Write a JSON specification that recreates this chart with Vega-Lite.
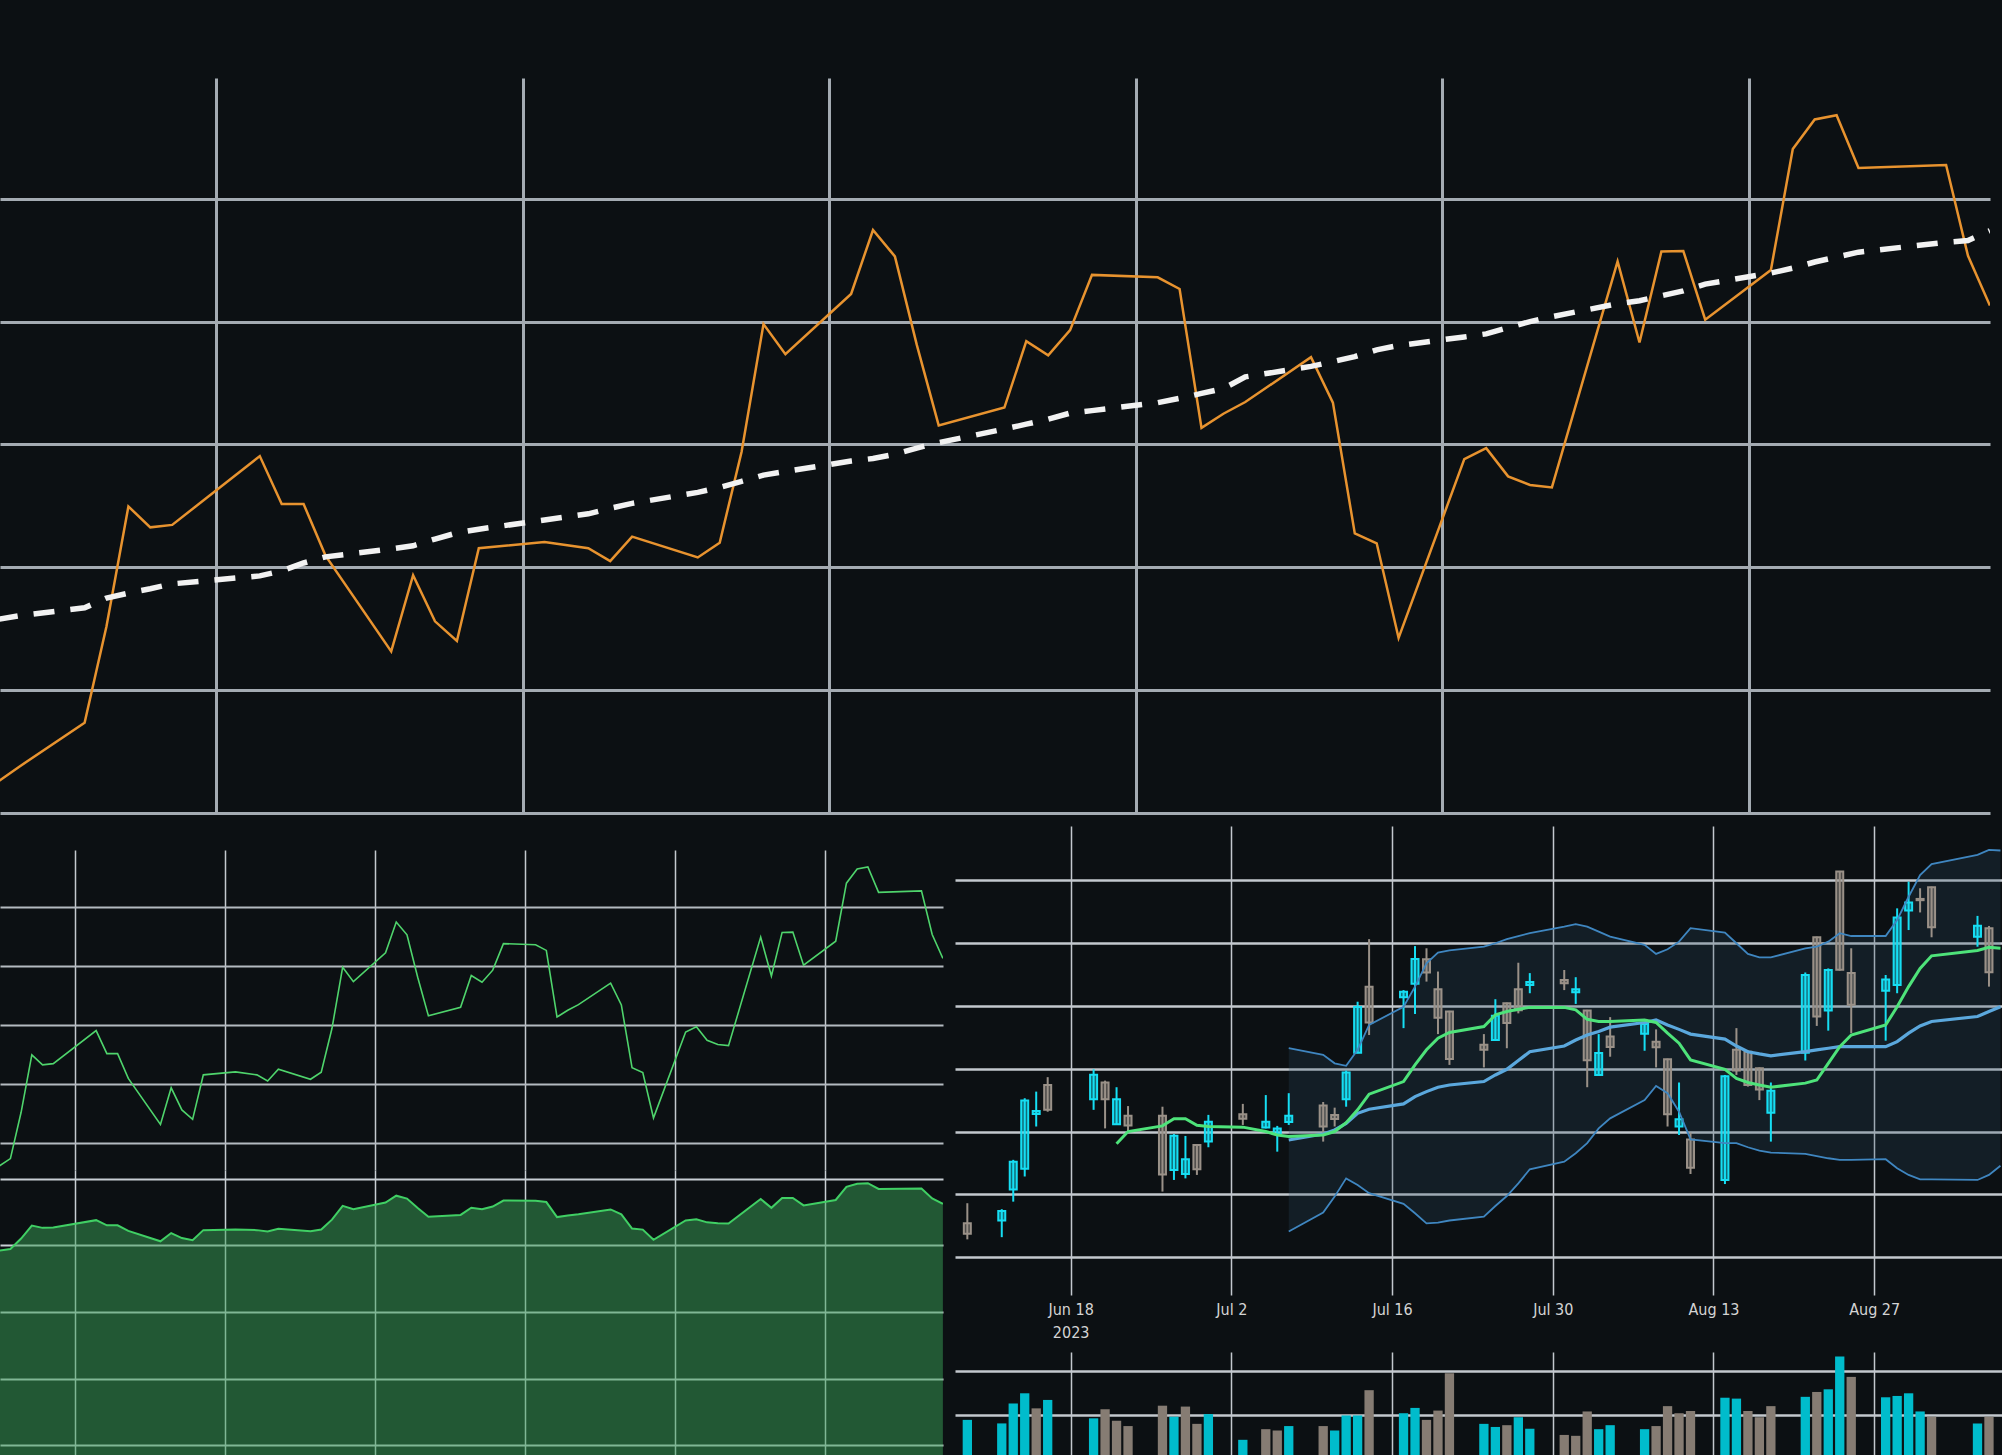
{
  "$schema": "https://vega.github.io/schema/vega-lite/v6.json",
  "description": "Stock dashboard: close with long moving average, close line and area, candlestick with bands and volume",
  "background": "#0c1013",
  "padding": {"top": 78, "left": 0, "right": 0, "bottom": 0},
  "spacing": 13,
  "config": {
    "view": {"stroke": null},
    "axis": {"labels": false, "ticks": false, "domain": false, "minExtent": 0, "maxExtent": 0}
  },
  "datasets": {
    "px": [
      {"date": "2023-06-08", "c": 28.5, "sma": 31.15},
      {"date": "2023-06-09", "o": 29.08, "h": 29.72, "l": 28.57, "c": 28.75, "v": 8.9, "vd": "u", "sma": 31.21},
      {"date": "2023-06-12", "o": 29.17, "h": 29.53, "l": 28.64, "c": 29.47, "v": 8.1, "vd": "u", "sma": 31.34},
      {"date": "2023-06-13", "o": 30.16, "h": 31.1, "l": 29.77, "c": 31.04, "v": 12.6, "vd": "u", "sma": 31.5},
      {"date": "2023-06-14", "o": 30.82, "h": 33.06, "l": 30.57, "c": 32.99, "v": 14.9, "vd": "u", "sma": 31.58},
      {"date": "2023-06-15", "o": 32.56, "h": 33.27, "l": 32.16, "c": 32.65, "v": 11.5, "vd": "d", "sma": 31.65},
      {"date": "2023-06-16", "o": 33.48, "h": 33.73, "l": 32.63, "c": 32.69, "v": 13.4, "vd": "u", "sma": 31.73},
      {"date": "2023-06-20", "o": 33.03, "h": 33.98, "l": 32.69, "c": 33.81, "v": 9.25, "vd": "u", "sma": 31.86},
      {"date": "2023-06-21", "o": 33.56, "h": 33.62, "l": 32.1, "c": 33.03, "v": 11.3, "vd": "d", "sma": 31.94},
      {"date": "2023-06-22", "o": 32.23, "h": 33.41, "l": 32.21, "c": 33.03, "v": 8.7, "vd": "d", "sma": 32.07, "ma": 31.61},
      {"date": "2023-06-23", "o": 32.5, "h": 32.81, "l": 32.0, "c": 32.19, "v": 7.5, "vd": "d", "sma": 32.17, "ma": 32.0},
      {"date": "2023-06-26", "o": 32.5, "h": 32.79, "l": 30.09, "c": 30.63, "v": 12.1, "vd": "d", "sma": 32.3, "ma": 32.18},
      {"date": "2023-06-27", "o": 30.78, "h": 31.92, "l": 30.46, "c": 31.87, "v": 9.6, "vd": "u", "sma": 32.35, "ma": 32.41},
      {"date": "2023-06-28", "o": 30.65, "h": 31.86, "l": 30.51, "c": 31.12, "v": 11.9, "vd": "d", "sma": 32.46, "ma": 32.41},
      {"date": "2023-06-29", "o": 31.57, "h": 31.6, "l": 30.62, "c": 30.8, "v": 8.0, "vd": "d", "sma": 32.56, "ma": 32.2},
      {"date": "2023-06-30", "o": 31.68, "h": 32.53, "l": 31.5, "c": 32.31, "v": 10.2, "vd": "u", "sma": 32.62, "ma": 32.16},
      {"date": "2023-07-03", "o": 32.55, "h": 32.88, "l": 32.21, "c": 32.41, "v": 4.4, "vd": "u", "sma": 32.77, "ma": 32.14},
      {"date": "2023-07-05", "o": 32.13, "h": 33.16, "l": 32.1, "c": 32.31, "v": 6.8, "vd": "d", "sma": 32.87, "ma": 32.0},
      {"date": "2023-07-06", "o": 31.92, "h": 32.18, "l": 31.36, "c": 32.1, "v": 6.5, "vd": "d", "sma": 32.96, "ma": 31.89},
      {"date": "2023-07-07", "o": 32.3, "h": 33.22, "l": 32.21, "c": 32.5, "v": 7.5, "vd": "u", "sma": 33.04, "ma": 31.84, "mid": 31.73, "up": 34.65, "lo": 28.82},
      {"date": "2023-07-10", "o": 32.83, "h": 32.94, "l": 31.68, "c": 32.16, "v": 7.5, "vd": "d", "sma": 33.22, "ma": 31.89, "mid": 31.92, "up": 34.44, "lo": 29.42},
      {"date": "2023-07-11", "o": 32.53, "h": 32.76, "l": 32.16, "c": 32.4, "v": 6.5, "vd": "u", "sma": 33.3, "ma": 32.0, "mid": 32.05, "up": 34.17, "lo": 29.93},
      {"date": "2023-07-12", "o": 33.03, "h": 33.94, "l": 32.79, "c": 33.88, "v": 9.9, "vd": "u", "sma": 33.4, "ma": 32.28, "mid": 32.26, "up": 34.09, "lo": 30.51},
      {"date": "2023-07-13", "o": 34.51, "h": 36.13, "l": 34.49, "c": 35.96, "v": 9.9, "vd": "u", "sma": 33.5, "ma": 32.69, "mid": 32.58, "up": 34.6, "lo": 30.3},
      {"date": "2023-07-14", "o": 36.61, "h": 38.12, "l": 35.07, "c": 35.47, "v": 15.6, "vd": "d", "sma": 33.56, "ma": 33.19, "mid": 32.71, "up": 35.39, "lo": 30.04},
      {"date": "2023-07-17", "o": 36.27, "h": 36.5, "l": 35.29, "c": 36.45, "v": 10.4, "vd": "u", "sma": 33.73, "ma": 33.59, "mid": 32.88, "up": 35.97, "lo": 29.7},
      {"date": "2023-07-18", "o": 36.7, "h": 37.9, "l": 35.74, "c": 37.49, "v": 11.6, "vd": "u", "sma": 33.77, "ma": 34.12, "mid": 33.11, "up": 36.61, "lo": 29.4},
      {"date": "2023-07-19", "o": 37.48, "h": 37.83, "l": 36.77, "c": 37.06, "v": 8.9, "vd": "d", "sma": 33.84, "ma": 34.6, "mid": 33.27, "up": 37.35, "lo": 29.08},
      {"date": "2023-07-20", "o": 36.53, "h": 37.09, "l": 35.1, "c": 35.62, "v": 11.0, "vd": "d", "sma": 33.94, "ma": 34.97, "mid": 33.41, "up": 37.69, "lo": 29.1},
      {"date": "2023-07-21", "o": 35.82, "h": 35.84, "l": 34.12, "c": 34.31, "v": 19.4, "vd": "d", "sma": 34.03, "ma": 35.15, "mid": 33.48, "up": 37.76, "lo": 29.17},
      {"date": "2023-07-24", "o": 34.76, "h": 35.1, "l": 34.04, "c": 34.6, "v": 8.0, "vd": "u", "sma": 34.25, "ma": 35.34, "mid": 33.59, "up": 37.88, "lo": 29.29},
      {"date": "2023-07-25", "o": 34.91, "h": 36.21, "l": 34.89, "c": 35.68, "v": 7.3, "vd": "u", "sma": 34.33, "ma": 35.71, "mid": 33.8, "up": 37.99, "lo": 29.63},
      {"date": "2023-07-26", "o": 36.08, "h": 36.1, "l": 34.65, "c": 35.45, "v": 7.7, "vd": "d", "sma": 34.41, "ma": 35.82, "mid": 33.98, "up": 38.12, "lo": 29.95},
      {"date": "2023-07-27", "o": 36.53, "h": 37.37, "l": 35.76, "c": 35.86, "v": 9.5, "vd": "u", "sma": 34.51, "ma": 35.89, "mid": 34.26, "up": 38.22, "lo": 30.35},
      {"date": "2023-07-28", "o": 36.66, "h": 37.04, "l": 36.4, "c": 36.76, "v": 6.9, "vd": "u", "sma": 34.55, "ma": 35.95, "mid": 34.54, "up": 38.31, "lo": 30.8},
      {"date": "2023-07-31", "o": 36.82, "h": 37.14, "l": 36.5, "c": 36.72, "v": 5.5, "vd": "d", "sma": 34.68, "ma": 35.95, "mid": 34.72, "up": 38.52, "lo": 31.04},
      {"date": "2023-08-01", "o": 36.43, "h": 36.91, "l": 36.06, "c": 36.53, "v": 5.3, "vd": "d", "sma": 34.75, "ma": 35.87, "mid": 34.91, "up": 38.6, "lo": 31.31},
      {"date": "2023-08-02", "o": 35.85, "h": 35.87, "l": 33.41, "c": 34.27, "v": 10.8, "vd": "d", "sma": 34.83, "ma": 35.57, "mid": 35.07, "up": 38.52, "lo": 31.63},
      {"date": "2023-08-03", "o": 33.8, "h": 35.1, "l": 33.78, "c": 34.5, "v": 6.8, "vd": "u", "sma": 34.91, "ma": 35.5, "mid": 35.18, "up": 38.36, "lo": 32.1},
      {"date": "2023-08-04", "o": 35.02, "h": 35.64, "l": 34.38, "c": 34.69, "v": 7.7, "vd": "u", "sma": 35.1, "ma": 35.5, "mid": 35.32, "up": 38.2, "lo": 32.42},
      {"date": "2023-08-07", "o": 35.11, "h": 35.47, "l": 34.57, "c": 35.42, "v": 6.8, "vd": "u", "sma": 35.27, "ma": 35.55, "mid": 35.47, "up": 37.94, "lo": 33.0},
      {"date": "2023-08-08", "o": 34.86, "h": 35.25, "l": 34.04, "c": 34.68, "v": 7.5, "vd": "d", "sma": 35.35, "ma": 35.47, "mid": 35.55, "up": 37.65, "lo": 33.45},
      {"date": "2023-08-09", "o": 34.3, "h": 34.32, "l": 32.16, "c": 32.55, "v": 12.0, "vd": "d", "sma": 35.43, "ma": 35.13, "mid": 35.39, "up": 37.8, "lo": 33.22},
      {"date": "2023-08-10", "o": 32.16, "h": 33.56, "l": 31.89, "c": 32.39, "v": 10.4, "vd": "d", "sma": 35.54, "ma": 34.81, "mid": 35.25, "up": 38.04, "lo": 32.63},
      {"date": "2023-08-11", "o": 31.75, "h": 31.97, "l": 30.65, "c": 30.85, "v": 10.9, "vd": "d", "sma": 35.61, "ma": 34.28, "mid": 35.1, "up": 38.47, "lo": 31.75},
      {"date": "2023-08-14", "o": 30.46, "h": 33.8, "l": 30.33, "c": 33.76, "v": 13.9, "vd": "u", "sma": 35.75, "ma": 33.98, "mid": 34.94, "up": 38.33, "lo": 31.63},
      {"date": "2023-08-15", "o": 34.6, "h": 35.29, "l": 33.8, "c": 33.94, "v": 13.7, "vd": "u", "sma": 35.8, "ma": 33.69, "mid": 34.72, "up": 37.99, "lo": 31.63},
      {"date": "2023-08-16", "o": 34.54, "h": 34.58, "l": 33.43, "c": 33.48, "v": 10.9, "vd": "d", "sma": 35.9, "ma": 33.56, "mid": 34.54, "up": 37.65, "lo": 31.5},
      {"date": "2023-08-17", "o": 34.01, "h": 34.04, "l": 33.0, "c": 33.34, "v": 9.5, "vd": "d", "sma": 36.0, "ma": 33.48, "mid": 34.47, "up": 37.54, "lo": 31.39},
      {"date": "2023-08-18", "o": 32.6, "h": 33.56, "l": 31.68, "c": 33.3, "v": 12.0, "vd": "d", "sma": 36.08, "ma": 33.41, "mid": 34.41, "up": 37.54, "lo": 31.33},
      {"date": "2023-08-21", "o": 34.51, "h": 37.06, "l": 34.26, "c": 36.98, "v": 14.1, "vd": "u", "sma": 36.29, "ma": 33.54, "mid": 34.54, "up": 37.83, "lo": 31.29},
      {"date": "2023-08-22", "o": 38.18, "h": 38.2, "l": 35.36, "c": 35.66, "v": 15.2, "vd": "d", "sma": 36.34, "ma": 33.64, "mid": 34.6, "up": 37.88, "lo": 31.22},
      {"date": "2023-08-23", "o": 35.85, "h": 37.19, "l": 35.21, "c": 37.14, "v": 15.8, "vd": "u", "sma": 36.42, "ma": 34.17, "mid": 34.65, "up": 38.04, "lo": 31.15},
      {"date": "2023-08-24", "o": 40.27, "h": 40.29, "l": 37.12, "c": 37.15, "v": 23.2, "vd": "u", "sma": 36.5, "ma": 34.7, "mid": 34.7, "up": 38.31, "lo": 31.1},
      {"date": "2023-08-25", "o": 37.04, "h": 37.83, "l": 35.13, "c": 36.03, "v": 18.6, "vd": "d", "sma": 36.61, "ma": 35.07, "mid": 34.7, "up": 38.22, "lo": 31.1},
      {"date": "2023-08-28", "o": 36.48, "h": 36.98, "l": 34.89, "c": 36.84, "v": 14.0, "vd": "u", "sma": 36.79, "ma": 35.39, "mid": 34.7, "up": 38.22, "lo": 31.12},
      {"date": "2023-08-29", "o": 36.66, "h": 39.1, "l": 36.4, "c": 38.81, "v": 14.3, "vd": "u", "sma": 36.87, "ma": 35.97, "mid": 34.86, "up": 38.73, "lo": 30.83},
      {"date": "2023-08-30", "o": 39.03, "h": 39.95, "l": 38.41, "c": 39.29, "v": 14.9, "vd": "u", "sma": 36.97, "ma": 36.61, "mid": 35.13, "up": 39.47, "lo": 30.62},
      {"date": "2023-08-31", "o": 39.4, "h": 39.74, "l": 38.97, "c": 39.36, "v": 10.8, "vd": "u", "sma": 37.05, "ma": 37.19, "mid": 35.36, "up": 40.16, "lo": 30.48},
      {"date": "2023-09-01", "o": 39.77, "h": 39.79, "l": 38.18, "c": 38.5, "v": 9.6, "vd": "d", "sma": 37.13, "ma": 37.59, "mid": 35.5, "up": 40.51, "lo": 30.48},
      {"date": "2023-09-05", "o": 38.2, "h": 38.86, "l": 37.88, "c": 38.55, "v": 8.1, "vd": "u", "sma": 37.29, "ma": 37.76, "mid": 35.66, "up": 40.8, "lo": 30.46},
      {"date": "2023-09-06", "o": 38.47, "h": 38.54, "l": 36.61, "c": 37.07, "v": 9.6, "vd": "d", "sma": 37.32, "ma": 37.86, "mid": 35.82, "up": 40.96, "lo": 30.62},
      {"date": "2023-09-07", "c": 36.26, "sma": 37.48, "ma": 37.83, "mid": 35.97, "up": 40.94, "lo": 30.91}
    ]
  },
  "vconcat": [
    {
      "width": 1990,
      "height": 735,
      "data": {"name": "px"},
      "encoding": {
        "x": {
          "field": "date",
          "type": "temporal",
          "title": null,
          "scale": {
            "type": "utc",
            "domain": [
              {"year": 2023, "month": 6, "date": 8, "hours": 3, "minutes": 17, "utc": true},
              {"year": 2023, "month": 9, "date": 7, "hours": 0, "minutes": 7, "utc": true}
            ]
          },
          "axis": {
            "grid": true,
            "gridColor": "#a4abb2",
            "gridWidth": 3,
            "values": [
              {"year": 2023, "month": 6, "date": 18, "utc": true},
              {"year": 2023, "month": 7, "date": 2, "utc": true},
              {"year": 2023, "month": 7, "date": 16, "utc": true},
              {"year": 2023, "month": 7, "date": 30, "utc": true},
              {"year": 2023, "month": 8, "date": 13, "utc": true},
              {"year": 2023, "month": 8, "date": 27, "utc": true}
            ]
          }
        }
      },
      "layer": [
        {
          "mark": {"type": "line", "color": "#e8932f", "strokeWidth": 2.5, "clip": true},
          "encoding": {
            "y": {
              "field": "c",
              "type": "quantitative",
              "title": null,
              "scale": {"domain": [28, 39.965]},
              "axis": {"grid": true, "gridColor": "#a4abb2", "gridWidth": 3, "values": [28, 30, 32, 34, 36, 38]}
            }
          }
        },
        {
          "mark": {"type": "line", "color": "#f2f2f2", "strokeWidth": 5.5, "strokeDash": [21, 16], "clip": true},
          "encoding": {
            "y": {"field": "sma", "type": "quantitative", "title": null, "scale": {"domain": [28, 39.965]}}
          }
        }
      ]
    },
    {
      "spacing": 12,
      "hconcat": [
        {
          "spacing": 0,
          "vconcat": [
            {
              "width": 943,
              "height": 24,
              "data": {"values": []},
              "mark": {"type": "point"},
              "encoding": {}
            },
            {
              "width": 943,
              "height": 320,
              "data": {"name": "px"},
              "mark": {"type": "line", "color": "#4fd46c", "strokeWidth": 1.6, "clip": true},
              "encoding": {
                "x": {
                  "field": "date",
                  "type": "temporal",
                  "title": null,
                  "scale": {
                    "type": "utc",
                    "domain": [
                      {"year": 2023, "month": 6, "date": 11, "hours": 0, "minutes": 43, "utc": true},
                      {"year": 2023, "month": 9, "date": 7, "hours": 0, "minutes": 14, "utc": true}
                    ]
                  },
                  "axis": {
                    "grid": true,
                    "gridColor": "#c4c9ce",
                    "gridWidth": 1.5,
                    "values": [
                      {"year": 2023, "month": 6, "date": 18, "utc": true},
                      {"year": 2023, "month": 7, "date": 2, "utc": true},
                      {"year": 2023, "month": 7, "date": 16, "utc": true},
                      {"year": 2023, "month": 7, "date": 30, "utc": true},
                      {"year": 2023, "month": 8, "date": 13, "utc": true},
                      {"year": 2023, "month": 8, "date": 27, "utc": true}
                    ]
                  }
                },
                "y": {
                  "field": "c",
                  "type": "quantitative",
                  "title": null,
                  "scale": {"domain": [29.083, 39.935]},
                  "axis": {"grid": true, "gridColor": "#b4bac0", "gridWidth": 2, "values": [30, 32, 34, 36, 38]}
                }
              }
            },
            {
              "width": 943,
              "height": 285,
              "data": {"name": "px"},
              "encoding": {
                "x": {
                  "field": "date",
                  "type": "temporal",
                  "title": null,
                  "scale": {
                    "type": "utc",
                    "domain": [
                      {"year": 2023, "month": 6, "date": 11, "hours": 0, "minutes": 43, "utc": true},
                      {"year": 2023, "month": 9, "date": 7, "hours": 0, "minutes": 14, "utc": true}
                    ]
                  },
                  "axis": {
                    "grid": true,
                    "gridColor": "#c8ced4",
                    "gridWidth": 1.5,
                    "values": [
                      {"year": 2023, "month": 6, "date": 18, "utc": true},
                      {"year": 2023, "month": 7, "date": 2, "utc": true},
                      {"year": 2023, "month": 7, "date": 16, "utc": true},
                      {"year": 2023, "month": 7, "date": 30, "utc": true},
                      {"year": 2023, "month": 8, "date": 13, "utc": true},
                      {"year": 2023, "month": 8, "date": 27, "utc": true}
                    ]
                  }
                }
              },
              "layer": [
                {
                  "mark": {"type": "area", "fill": "#38a055", "fillOpacity": 0.5, "clip": true},
                  "encoding": {
                    "y": {
                      "field": "c",
                      "type": "quantitative",
                      "title": null,
                      "scale": {"domain": [-1.5, 41.35]},
                      "axis": {"grid": true, "gridColor": "#c8ced4", "gridWidth": 2, "values": [0, 10, 20, 30, 40]}
                    },
                    "y2": {"datum": -1.5}
                  }
                },
                {
                  "mark": {"type": "line", "color": "#40cf64", "strokeWidth": 2, "clip": true},
                  "encoding": {
                    "y": {"field": "c", "type": "quantitative", "title": null, "scale": {"domain": [-1.5, 41.35]}}
                  }
                }
              ]
            }
          ]
        },
        {
          "spacing": 0,
          "vconcat": [
            {
              "width": 1047,
              "height": 469,
              "data": {"name": "px"},
              "encoding": {
                "x": {
                  "field": "date",
                  "type": "temporal",
                  "title": null,
                  "scale": {
                    "type": "utc",
                    "domain": [
                      {"year": 2023, "month": 6, "date": 8, "hours": 8, "minutes": 41, "utc": true},
                      {"year": 2023, "month": 9, "date": 6, "hours": 16, "minutes": 47, "utc": true}
                    ]
                  },
                  "axis": {
                    "grid": true,
                    "gridColor": "#c3c8ce",
                    "gridWidth": 1.5,
                    "labels": true,
                    "labelColor": "#d4d4d4",
                    "labelFont": "'DejaVu Sans Condensed', 'Liberation Sans Narrow', 'Open Sans', sans-serif",
                    "labelFontSize": 16,
                    "labelPadding": 6,
                    "labelLineHeight": 23,
                    "labelOverlap": false,
                    "labelFlush": false,
                    "labelExpr": "utcFormat(datum.value, '%b %-d') == 'Jun 18' ? ['Jun 18', '2023'] : utcFormat(datum.value, '%b %-d')",
                    "minExtent": 57,
                    "maxExtent": 57,
                    "values": [
                      {"year": 2023, "month": 6, "date": 18, "utc": true},
                      {"year": 2023, "month": 7, "date": 2, "utc": true},
                      {"year": 2023, "month": 7, "date": 16, "utc": true},
                      {"year": 2023, "month": 7, "date": 30, "utc": true},
                      {"year": 2023, "month": 8, "date": 13, "utc": true},
                      {"year": 2023, "month": 8, "date": 27, "utc": true}
                    ]
                  }
                }
              },
              "layer": [
                {
                  "transform": [{"filter": "isValid(datum.up)"}],
                  "mark": {"type": "area", "fill": "#2a4a66", "fillOpacity": 0.24, "clip": true},
                  "encoding": {
                    "y": {
                      "field": "lo",
                      "type": "quantitative",
                      "title": null,
                      "scale": {"domain": [26.8, 41.72]},
                      "axis": {"grid": true, "gridColor": "#c3c8ce", "gridWidth": 2.5, "values": [28, 30, 32, 34, 36, 38, 40]}
                    },
                    "y2": {"field": "up"}
                  }
                },
                {
                  "transform": [{"filter": "isValid(datum.o)"}],
                  "mark": {"type": "rule", "strokeWidth": 2, "clip": true},
                  "encoding": {
                    "y": {"field": "l", "type": "quantitative", "title": null, "scale": {"domain": [26.8, 41.72]}},
                    "y2": {"field": "h"},
                    "stroke": {"condition": {"test": "datum.c >= datum.o", "value": "#16def3"}, "value": "#9a9188"}
                  }
                },
                {
                  "transform": [{"filter": "isValid(datum.o)"}],
                  "mark": {"type": "bar", "size": 7, "strokeWidth": 2, "fillOpacity": 0.45, "clip": true},
                  "encoding": {
                    "y": {"field": "o", "type": "quantitative", "title": null, "scale": {"domain": [26.8, 41.72]}},
                    "y2": {"field": "c"},
                    "fill": {"condition": {"test": "datum.c >= datum.o", "value": "#16def3"}, "value": "#9a9188"},
                    "stroke": {"condition": {"test": "datum.c >= datum.o", "value": "#16def3"}, "value": "#9a9188"}
                  }
                },
                {
                  "transform": [{"filter": "isValid(datum.up)"}],
                  "mark": {"type": "line", "color": "#3f86c0", "strokeWidth": 1.8, "clip": true},
                  "encoding": {
                    "y": {"field": "up", "type": "quantitative", "title": null, "scale": {"domain": [26.8, 41.72]}}
                  }
                },
                {
                  "transform": [{"filter": "isValid(datum.lo)"}],
                  "mark": {"type": "line", "color": "#3f86c0", "strokeWidth": 1.8, "clip": true},
                  "encoding": {
                    "y": {"field": "lo", "type": "quantitative", "title": null, "scale": {"domain": [26.8, 41.72]}}
                  }
                },
                {
                  "transform": [{"filter": "isValid(datum.mid)"}],
                  "mark": {"type": "line", "color": "#5ba8dd", "strokeWidth": 3.2, "clip": true},
                  "encoding": {
                    "y": {"field": "mid", "type": "quantitative", "title": null, "scale": {"domain": [26.8, 41.72]}}
                  }
                },
                {
                  "transform": [{"filter": "isValid(datum.ma)"}],
                  "mark": {"type": "line", "color": "#4ee37a", "strokeWidth": 3, "clip": true},
                  "encoding": {
                    "y": {"field": "ma", "type": "quantitative", "title": null, "scale": {"domain": [26.8, 41.72]}}
                  }
                }
              ]
            },
            {
              "width": 1047,
              "height": 103,
              "data": {"name": "px"},
              "transform": [{"filter": "isValid(datum.v)"}],
              "mark": {"type": "bar", "size": 9.3, "clip": true},
              "encoding": {
                "x": {
                  "field": "date",
                  "type": "temporal",
                  "title": null,
                  "scale": {
                    "type": "utc",
                    "domain": [
                      {"year": 2023, "month": 6, "date": 8, "hours": 8, "minutes": 41, "utc": true},
                      {"year": 2023, "month": 9, "date": 6, "hours": 16, "minutes": 47, "utc": true}
                    ]
                  },
                  "axis": {
                    "grid": true,
                    "gridColor": "#c3c8ce",
                    "gridWidth": 1.5,
                    "values": [
                      {"year": 2023, "month": 6, "date": 18, "utc": true},
                      {"year": 2023, "month": 7, "date": 2, "utc": true},
                      {"year": 2023, "month": 7, "date": 16, "utc": true},
                      {"year": 2023, "month": 7, "date": 30, "utc": true},
                      {"year": 2023, "month": 8, "date": 13, "utc": true},
                      {"year": 2023, "month": 8, "date": 27, "utc": true}
                    ]
                  }
                },
                "y": {
                  "field": "v",
                  "type": "quantitative",
                  "title": null,
                  "scale": {"domain": [0.97, 24.22]},
                  "axis": {"grid": true, "gridColor": "#c3c8ce", "gridWidth": 2.5, "values": [10, 20]}
                },
                "color": {
                  "field": "vd",
                  "type": "nominal",
                  "legend": null,
                  "scale": {"domain": ["u", "d"], "range": ["#00bccc", "#867c73"]}
                }
              }
            }
          ]
        }
      ]
    }
  ]
}
